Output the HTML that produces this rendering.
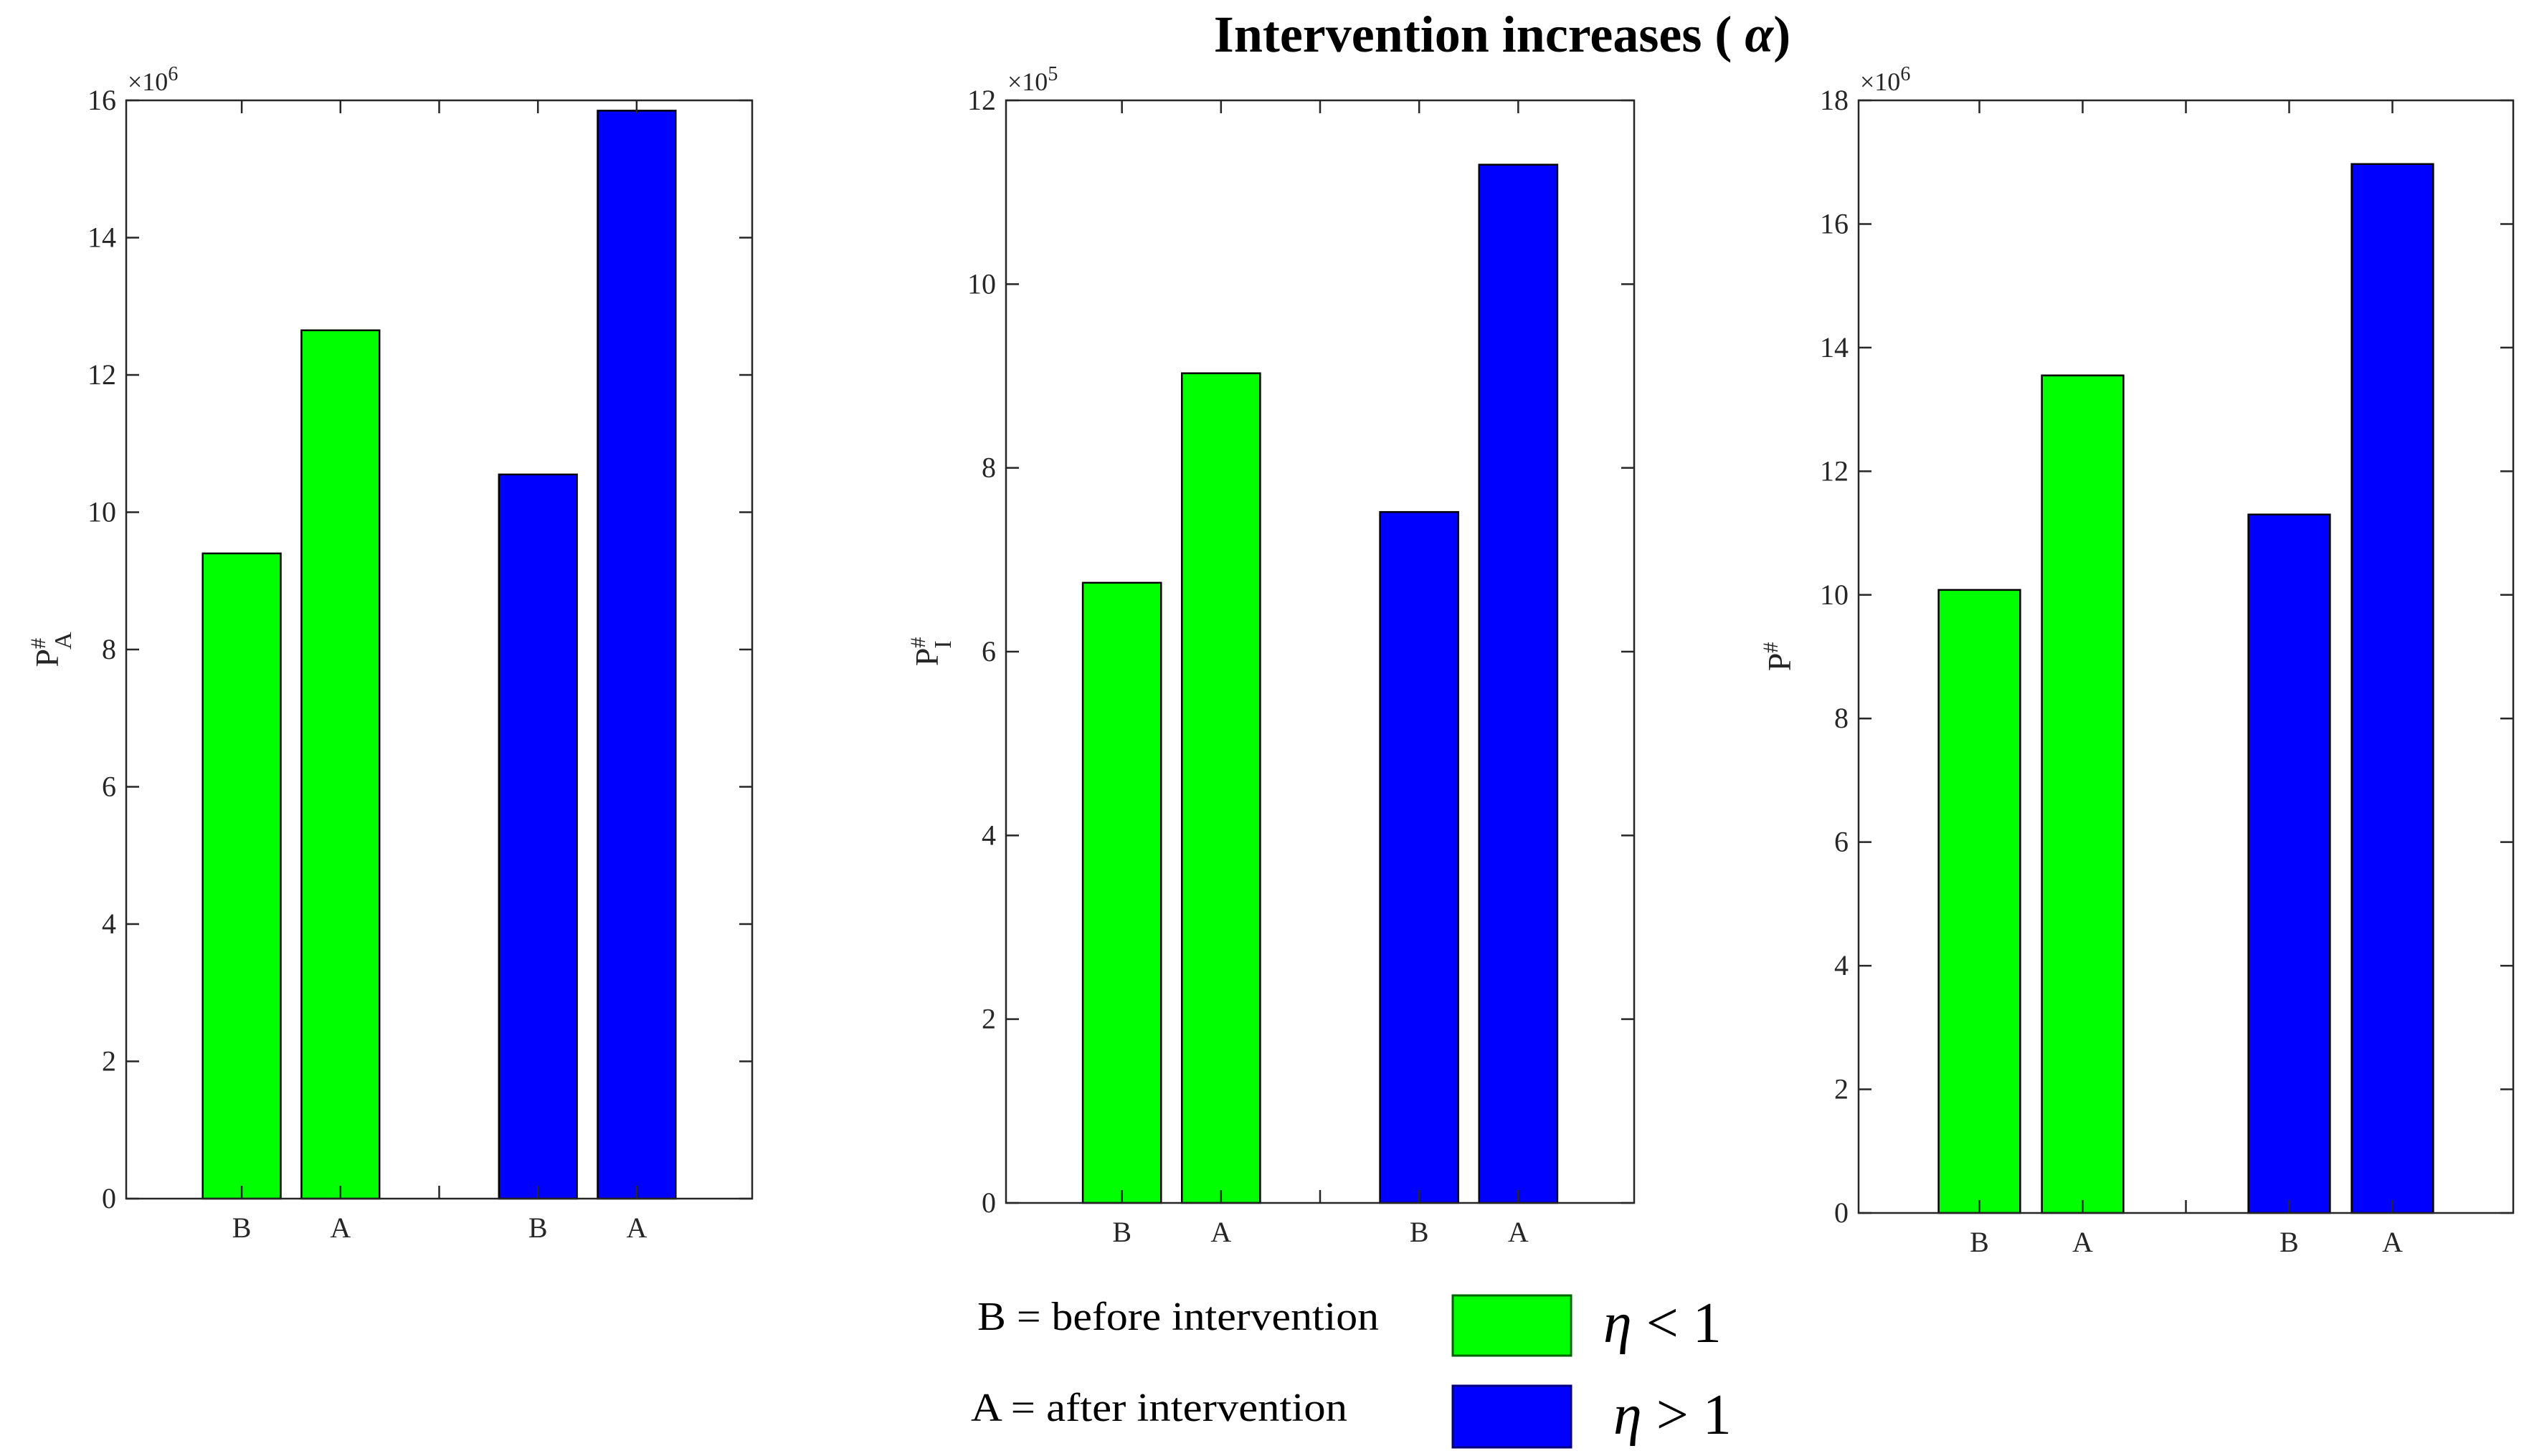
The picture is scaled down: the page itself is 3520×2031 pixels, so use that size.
<!DOCTYPE html>
<html><head><meta charset="utf-8"><style>
html,body{margin:0;padding:0;background:#fff;}
svg{display:block;font-family:"Liberation Serif",serif;}
</style></head><body>
<svg id="fig" width="3520" height="2031" viewBox="0 0 3520 2031" xmlns="http://www.w3.org/2000/svg">
<text x="2095" y="72" text-anchor="middle" font-size="72" font-weight="bold">Intervention increases ( <tspan font-style="italic">α</tspan>)</text>
<g>
<text x="1363" y="1855" font-size="56" textLength="560" lengthAdjust="spacingAndGlyphs">B = before intervention</text>
<text x="1354" y="1982" font-size="56" textLength="525" lengthAdjust="spacingAndGlyphs">A = after intervention</text>
<rect x="2026" y="1807" width="165" height="84" fill="#00ff00" stroke="#006400" stroke-width="3"/>
<rect x="2026" y="1933" width="165" height="86" fill="#0000ff" stroke="#000080" stroke-width="3"/>
<text x="2236" y="1872" font-size="80"><tspan font-style="italic">η</tspan> &lt; 1</text>
<text x="2250" y="2000" font-size="80"><tspan font-style="italic">η</tspan> &gt; 1</text>
</g>
</svg>
<script>
// Data
const categories = ["B", "A", "B", "A"];
const groupNames = ["eta-lt-1-before", "eta-lt-1-after", "eta-gt-1-before", "eta-gt-1-after"];
const panel1Values = [9.4, 12.65, 10.55, 15.85];
const panel2Values = [6.75, 9.03, 7.52, 11.3];
const panel3Values = [10.08, 13.55, 11.3, 16.97];
const panel1Ticks = [0, 2, 4, 6, 8, 10, 12, 14, 16];
const panel2Ticks = [0, 2, 4, 6, 8, 10, 12];
const panel3Ticks = [0, 2, 4, 6, 8, 10, 12, 14, 16, 18];
const barColors = ["#00ff00", "#00ff00", "#0000ff", "#0000ff"];

const NS = "http://www.w3.org/2000/svg";
const svg = document.getElementById("fig");
function mk(tag, attrs, parent) {
  const e = document.createElementNS(NS, tag);
  for (const k in attrs) e.setAttribute(k, attrs[k]);
  parent.appendChild(e);
  return e;
}
const slots = [1, 2, 4, 5];
function drawPanel(id, box, values, ticks, exp, ylab, sub) {
  const g = mk("g", {}, svg);
  
  
  const ymax = ticks[ticks.length - 1];
  const xmin = -0.17, xmax = 6.17;
  const xs = v => box.l + (v - xmin) / (xmax - xmin) * (box.r - box.l);
  const ys = v => box.b - v / ymax * (box.b - box.t);
  const unit = xs(1) - xs(0);
  const bw = unit * 0.79;
  values.forEach((v, i) => {
    const r = mk("rect", {x: xs(slots[i]) - bw / 2, y: ys(v), width: bw, height: ys(0) - ys(v), fill: barColors[i], stroke: "#000", "stroke-width": 2.5}, g);
    
    
    const t = mk("text", {x: xs(slots[i]), y: box.b + 54, "text-anchor": "middle", "font-size": 40, fill: "#262626"}, g);
    t.textContent = categories[i];
    
    
  });
  const frame = mk("rect", {x: box.l, y: box.t, width: box.r - box.l, height: box.b - box.t, fill: "none", stroke: "#262626", "stroke-width": 2.5}, g);
  
  
  const tl = 18;
  ticks.forEach(tv => {
    const y = ys(tv);
    mk("line", {x1: box.l, x2: box.l + tl, y1: y, y2: y, stroke: "#262626", "stroke-width": 2.5}, g);
    mk("line", {x1: box.r, x2: box.r - tl, y1: y, y2: y, stroke: "#262626", "stroke-width": 2.5}, g);
    const t = mk("text", {x: box.l - 14, y: y + 13, "text-anchor": "end", "font-size": 40, fill: "#262626"}, g);
    t.textContent = tv;
    
    
  });
  [1, 2, 3, 4, 5].forEach(s => {
    const x = xs(s);
    mk("line", {x1: x, x2: x, y1: box.b, y2: box.b - tl, stroke: "#262626", "stroke-width": 2.5}, g);
    mk("line", {x1: x, x2: x, y1: box.t, y2: box.t + tl, stroke: "#262626", "stroke-width": 2.5}, g);
  });
  const ex = mk("text", {x: box.l + 2, y: box.t - 14, "font-size": 36, fill: "#262626"}, g);
  ex.innerHTML = '×10<tspan dy="-14" font-size="28">' + exp + '</tspan>';
  
  
  const cy = (box.t + box.b) / 2;
  const yl = mk("text", {x: 0, y: 0, "font-size": 46, fill: "#262626", transform: "translate(" + (box.l - 95) + "," + cy + ") rotate(-90)", "text-anchor": "middle"}, g);
  yl.innerHTML = 'P<tspan dy="-18" font-size="30">#</tspan>' + (sub ? '<tspan dx="-16" dy="36" font-size="34">' + sub + '</tspan>' : '');
  
  
}
drawPanel("panel-p-a", {l: 176, r: 1049, t: 140, b: 1672}, panel1Values, panel1Ticks, "6", "P", "A");
drawPanel("panel-p-i", {l: 1403, r: 2279, t: 140, b: 1678}, panel2Values, panel2Ticks, "5", "P", "I");
drawPanel("panel-p-total", {l: 2592, r: 3505, t: 140, b: 1692}, panel3Values, panel3Ticks, "6", "P", "");
</script>
</body></html>
